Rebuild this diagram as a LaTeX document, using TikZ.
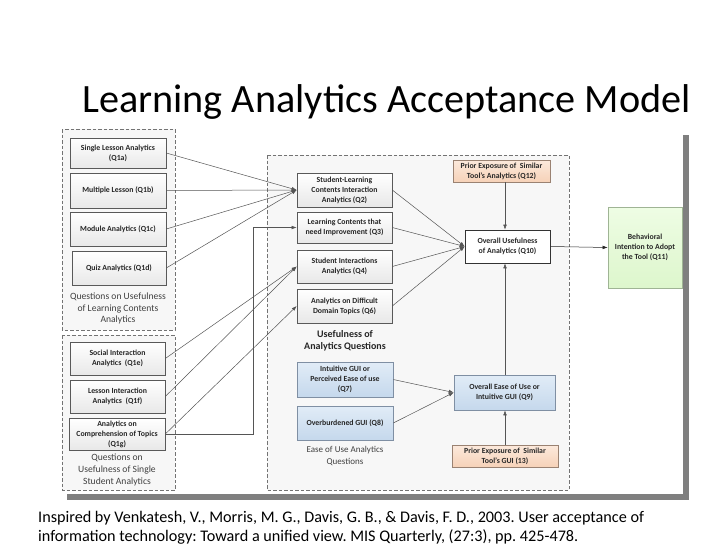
\documentclass[tikz,border=0pt]{standalone}
\usepackage{fontspec}
\setmainfont{Carlito}
\usetikzlibrary{arrows.meta}
\frenchspacing
\definecolor{txt}{HTML}{262626}
\definecolor{lbl}{HTML}{404040}
\definecolor{ln}{HTML}{555555}
\definecolor{shadowgray}{HTML}{7F7F7F}
\definecolor{blueA}{HTML}{E1ECF7}
\definecolor{blueB}{HTML}{C5D8EC}
\definecolor{blueD}{HTML}{7F8FA3}
\definecolor{peachA}{HTML}{FCE9DC}
\definecolor{peachB}{HTML}{F6D2B8}
\definecolor{peachD}{HTML}{9A8272}
\definecolor{greenA}{HTML}{EEFDE4}
\definecolor{greenB}{HTML}{DDF6CC}
\definecolor{greenD}{HTML}{9FB494}
\begin{document}
\begin{tikzpicture}[x=1pt,y=-1pt,
  qbox/.style 2 args={draw=black!65, line width=0.6pt, top color=white, bottom color=black!9,
     minimum width=#1, minimum height=#2, inner sep=0pt, align=center,
     text=txt, font=\fontsize{7.8}{10}\selectfont\bfseries},
  bluebox/.style={draw=blueD, top color=blueA, bottom color=blueB},
  peachbox/.style={draw=peachD, top color=peachA, bottom color=peachB},
  greenbox/.style={draw=greenD, top color=greenA, bottom color=greenB},
  grp/.style={draw=black!55, dash pattern=on 3.5pt off 2pt, line width=0.5pt, fill=black!3},
  glabel/.style={align=center, text=lbl, inner sep=0pt, font=\fontsize{9.6}{11.6}\selectfont},
  conn/.style={draw=ln, line width=0.5pt, -{Latex[length=5pt,width=3.6pt]}},
  plain/.style={draw=ln, line width=0.6pt}
]
\useasboundingbox (0,0) rectangle (728,546);
\fill[white] (0,0) rectangle (728,546);

% title
\node[anchor=base, inner sep=0pt, font=\fontsize{40.2}{46}\selectfont] (title) at (386.5,112) {Learning Analytics Acceptance Model};

% shadow of the inserted figure
\fill[shadowgray] (683,135) rectangle (689,500);
\fill[shadowgray] (67,494) rectangle (689,500);

% groups
\draw[grp] (62,129) rectangle (175,330);
\draw[grp] (62,335) rectangle (175,490);
\draw[grp] (267,155) rectangle (569,490);

% left group 1
\node[qbox={96pt}{30pt}] (Q1a) at (118,153) {Single Lesson Analytics\\(Q1a)};
\node[qbox={96pt}{35pt}] (Q1b) at (118,190.5) {Multiple Lesson (Q1b)};
\node[qbox={96pt}{34pt}] (Q1c) at (118,229) {Module Analytics (Q1c)};
\node[qbox={94pt}{34pt}] (Q1d) at (119,268) {Quiz Analytics (Q1d)};
\node[glabel] (L1) at (118,308.5) {Questions on Usefulness\\of Learning Contents\\Analytics};

% left group 2
\node[qbox={95pt}{33pt}] (Q1e) at (117.5,358.5) {Social Interaction\\Analytics\ \ (Q1e)};
\node[qbox={95pt}{33pt}] (Q1f) at (117.5,396.5) {Lesson Interaction\\Analytics\ \ (Q1f)};
\node[qbox={96pt}{32pt}] (Q1g) at (117,434) {Analytics on\\Comprehension of Topics\\(Q1g)};
\node[glabel] (L2) at (117,470) {Questions on\\Usefulness of Single\\Student Analytics};

% middle column
\node[qbox={95pt}{34pt}] (Q2) at (344.5,190) {Student-Learning\\Contents Interaction\\Analytics (Q2)};
\node[qbox={95pt}{31pt}] (Q3) at (344.5,227.5) {Learning Contents that\\need Improvement (Q3)};
\node[qbox={95pt}{33pt}] (Q4) at (344.5,266.5) {Student Interactions\\Analytics (Q4)};
\node[qbox={95pt}{34pt}] (Q6) at (344.5,306) {Analytics on Difficult\\Domain Topics (Q6)};
\node[glabel, font=\fontsize{10}{12}\selectfont\bfseries, text=txt] (L3) at (345,341) {Usefulness of\\Analytics Questions};
\node[qbox={96pt}{35pt}, bluebox] (Q7) at (345,379.5) {Intuitive GUI or\\Perceived Ease of use\\(Q7)};
\node[qbox={96pt}{34pt}, bluebox] (Q8) at (345,423) {Overburdened GUI (Q8)};
\node[glabel, font=\fontsize{9}{11.6}\selectfont] (L4) at (345,456) {Ease of Use Analytics\\Questions};

% right column
\node[qbox={97pt}{22pt}, peachbox] (Q12) at (501.5,171) {Prior Exposure of\ \ Similar\\Tool's Analytics (Q12)};
\node[qbox={85pt}{33pt}, draw=black!80, fill=white, top color=white, bottom color=white] (Q10) at (507.5,246.5) {Overall Usefulness\\of Analytics (Q10)};
\node[qbox={101pt}{35pt}, bluebox] (Q9) at (504.5,392.5) {Overall Ease of Use or\\Intuitive GUI (Q9)};
\node[qbox={106pt}{22pt}, peachbox] (Q13) at (505,456) {Prior Exposure of\ \ Similar\\Tool's GUI (13)};
\node[qbox={74pt}{81pt}, greenbox] (Q11) at (645,247.5) {Behavioral\\Intention to Adopt\\the Tool (Q11)};

% connectors: group 1 -> Q2
\draw[conn] (Q1a.east) -- (Q2.west);
\draw[conn] (Q1b.east) -- (Q2.west);
\draw[conn] (Q1c.east) -- (Q2.west);
\draw[conn] (Q1d.east) -- (Q2.west);

% group 2
\draw[conn] (Q1e.east) -- (Q4.west);
\draw[conn] (Q1f.east) -- (Q4.west);
\draw[conn] (Q1g.east) -- (Q6.west);
\coordinate (bendx) at (253,0);
\draw[conn] (Q1g.east) -- (Q1g.east -| bendx) |- (Q3.west);

% middle -> Q10
\draw[conn] (Q2.east) -- (Q10.west);
\draw[conn] (Q3.east) -- (Q10.west);
\draw[conn] (Q4.east) -- (Q10.west);
\draw[conn] (Q6.east) -- (Q10.west);
\draw[conn] (Q7.east) -- (Q9.west);
\draw[conn] (Q8.east) -- (Q9.west);

% vertical axis
\coordinate (ax) at (505,0);
\draw[conn] (ax |- Q12.south) -- (ax |- Q10.north);
\draw[conn] (ax |- Q9.north) -- (ax |- Q10.south);
\draw[conn] (ax |- Q13.north) -- (ax |- Q9.south);
\draw[conn, draw=black!85] (Q10.east) -- (Q11.west);

% citation
\node[anchor=base west, inner sep=0pt, align=left, font=\fontsize{16.2}{19}\selectfont] (cite) at (38,541)
  {Inspired by Venkatesh, V., Morris, M. G., Davis, G. B., \& Davis, F. D., 2003. User acceptance of\\
   information technology: Toward a unified view. MIS Quarterly, (27:3), pp. 425-478.};
\end{tikzpicture}
\end{document}
